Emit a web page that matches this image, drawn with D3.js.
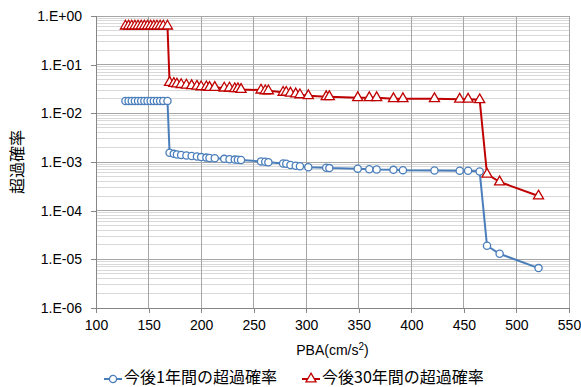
<!DOCTYPE html>
<html>
<head>
<meta charset="utf-8">
<script src="https://cdn.jsdelivr.net/npm/d3@7"></script>
<style>
  html, body { margin: 0; padding: 0; background: #fff; }
  svg { display: block; }
  text { font-family: "Liberation Sans", Arial, "Noto Sans CJK JP", sans-serif; fill: #000; }
  .jp { font-family: "Noto Sans CJK JP", sans-serif; }
</style>
</head>
<body>
<svg id="chart" width="581" height="387"></svg>
<script>
// PBA (cm/s²) of each hazard level
const pba = [128, 131, 134, 137, 140, 143, 146, 149, 152, 155, 158, 161, 164, 168,
  170, 174, 177, 181, 186, 191, 196, 200, 205, 208, 213, 222, 227, 232, 235, 238,
  257, 261, 264, 278, 281, 285, 290, 294, 302, 319, 322, 349, 360, 367, 383, 392,
  422, 446, 454, 465, 472, 484, 521];

// exceedance probability within the next 1 year
const prob1y = [0.018, 0.018, 0.018, 0.018, 0.018, 0.018, 0.018, 0.018, 0.018, 0.018, 0.018, 0.018, 0.018, 0.018,
  1.55e-3, 1.47e-3, 1.43e-3, 1.40e-3, 1.36e-3, 1.33e-3, 1.30e-3, 1.26e-3, 1.23e-3, 1.21e-3, 1.19e-3, 1.16e-3, 1.14e-3, 1.12e-3, 1.11e-3, 1.10e-3,
  1.03e-3, 1.01e-3, 9.9e-4, 9.3e-4, 9.2e-4, 8.7e-4, 8.4e-4, 8.2e-4, 7.8e-4, 7.6e-4, 7.5e-4, 7.3e-4, 7.1e-4, 7.0e-4, 6.9e-4, 6.8e-4,
  6.7e-4, 6.6e-4, 6.6e-4, 6.4e-4, 1.9e-5, 1.3e-5, 6.6e-6];

// exceedance probability within the next 30 years
const prob30y = [0.62, 0.62, 0.62, 0.62, 0.62, 0.62, 0.62, 0.62, 0.62, 0.62, 0.62, 0.62, 0.62, 0.62,
  0.043, 0.041, 0.040, 0.039, 0.038, 0.037, 0.036, 0.035, 0.035, 0.034, 0.034, 0.033, 0.033, 0.032, 0.032, 0.031,
  0.030, 0.029, 0.029, 0.027, 0.027, 0.026, 0.025, 0.024, 0.023, 0.022, 0.022, 0.021, 0.021, 0.021, 0.020, 0.020,
  0.020, 0.0195, 0.0195, 0.019, 5.6e-4, 3.9e-4, 2.0e-4];

const xTicks = [100, 150, 200, 250, 300, 350, 400, 450, 500, 550];
const yTicks = [1, 1e-1, 1e-2, 1e-3, 1e-4, 1e-5, 1e-6];

const seriesNames = ["今後1年間の超過確率", "今後30年間の超過確率"];
const seriesColors = ["#4a7ebb", "#c00000"];

const svg = d3.select("#chart");
const plot = { left: 96, right: 569, top: 16, bottom: 308 };

const x = d3.scaleLinear().domain([100, 550]).range([plot.left, plot.right]);
const y = d3.scaleLog().domain([1e-6, 1]).range([plot.bottom, plot.top]);

// minor horizontal grid (2..9 within each decade)
const minor = [];
for (let e = -6; e < 0; e++) for (let m = 2; m <= 9; m++) minor.push(m * Math.pow(10, e));
svg.append("g").selectAll("line").data(minor).join("line")
  .attr("x1", plot.left).attr("x2", plot.right)
  .attr("y1", d => y(d)).attr("y2", d => y(d))
  .attr("stroke", "#d9d9d9").attr("stroke-width", 1).attr("shape-rendering", "crispEdges");

// major horizontal grid
svg.append("g").selectAll("line").data(yTicks).join("line")
  .attr("x1", plot.left).attr("x2", plot.right)
  .attr("y1", d => y(d)).attr("y2", d => y(d))
  .attr("stroke", "#a6a6a6").attr("stroke-width", 1).attr("shape-rendering", "crispEdges");

// vertical grid
svg.append("g").selectAll("line").data(xTicks.slice(1)).join("line")
  .attr("x1", d => x(d)).attr("x2", d => x(d))
  .attr("y1", plot.top).attr("y2", plot.bottom)
  .attr("stroke", "#a6a6a6").attr("stroke-width", 1).attr("shape-rendering", "crispEdges");

// axes
const fmt = d => {
  const e = Math.round(Math.log10(d));
  return "1.E" + (e >= 0 ? "+" : "-") + String(Math.abs(e)).padStart(2, "0");
};
const yAxis = svg.append("g").attr("transform", `translate(${plot.left},0)`)
  .call(d3.axisLeft(y).tickValues(yTicks).tickFormat(fmt).tickSize(5).tickPadding(9));
const xAxis = svg.append("g").attr("transform", `translate(0,${plot.bottom})`)
  .call(d3.axisBottom(x).tickValues(xTicks).tickFormat(d3.format("d")).tickSize(5).tickPadding(7));
[yAxis, xAxis].forEach(g => {
  g.selectAll("path, line").attr("stroke", "#868686").attr("shape-rendering", "crispEdges");
  g.selectAll("text").attr("font-size", 14).attr("fill", "#000")
    .attr("font-family", "'Liberation Sans', Arial, sans-serif");
});

// axis titles
svg.append("text").attr("class", "jp")
  .attr("transform", `translate(19,${(plot.top + plot.bottom) / 2}) rotate(-90)`)
  .attr("text-anchor", "middle").attr("dominant-baseline", "middle")
  .attr("font-size", 16).text("超過確率");
const xt = svg.append("text").attr("x", (plot.left + plot.right) / 2).attr("y", 355)
  .attr("text-anchor", "middle").attr("font-size", 14);
xt.append("tspan").text("PBA(cm/s");
xt.append("tspan").attr("font-size", 10).attr("dy", -5).text("2");
xt.append("tspan").attr("dy", 5).text(")");

// series
const series = [prob1y, prob30y];
const line = d3.line().x(d => x(d[0])).y(d => y(d[1]));
const triangle = d3.symbol().type(d3.symbolTriangle).size(44);

series.forEach((vals, i) => {
  const pts = pba.map((p, j) => [p, vals[j]]);
  const g = svg.append("g");
  g.append("path").datum(pts).attr("d", line)
    .attr("fill", "none").attr("stroke", seriesColors[i]).attr("stroke-width", 2);
  if (i === 0) {
    g.selectAll("circle").data(pts).join("circle")
      .attr("cx", d => x(d[0])).attr("cy", d => y(d[1])).attr("r", 3.6)
      .attr("fill", "#fff").attr("stroke", seriesColors[i]).attr("stroke-width", 1.3);
  } else {
    g.selectAll("path.m").data(pts).join("path").attr("class", "m")
      .attr("transform", d => `translate(${x(d[0])},${y(d[1])})`)
      .attr("d", triangle)
      .attr("fill", "#fff").attr("stroke", seriesColors[i]).attr("stroke-width", 1.3);
  }
});

// legend
const legendY = 379;
const legendX = [104, 302];
seriesNames.forEach((name, i) => {
  const g = svg.append("g").attr("transform", `translate(${legendX[i]},${legendY})`);
  g.append("line").attr("x1", 0).attr("x2", 18).attr("y1", 0).attr("y2", 0)
    .attr("stroke", seriesColors[i]).attr("stroke-width", 2);
  if (i === 0) {
    g.append("circle").attr("cx", 9).attr("cy", 0).attr("r", 3.6)
      .attr("fill", "#fff").attr("stroke", seriesColors[i]).attr("stroke-width", 1.3);
  } else {
    g.append("path").attr("transform", "translate(9,0)").attr("d", triangle)
      .attr("fill", "#fff").attr("stroke", seriesColors[i]).attr("stroke-width", 1.3);
  }
  g.append("text").attr("class", "jp").attr("x", 20).attr("y", 0)
    .attr("dominant-baseline", "middle").attr("font-size", 16).text(name);
});
</script>
</body>
</html>
